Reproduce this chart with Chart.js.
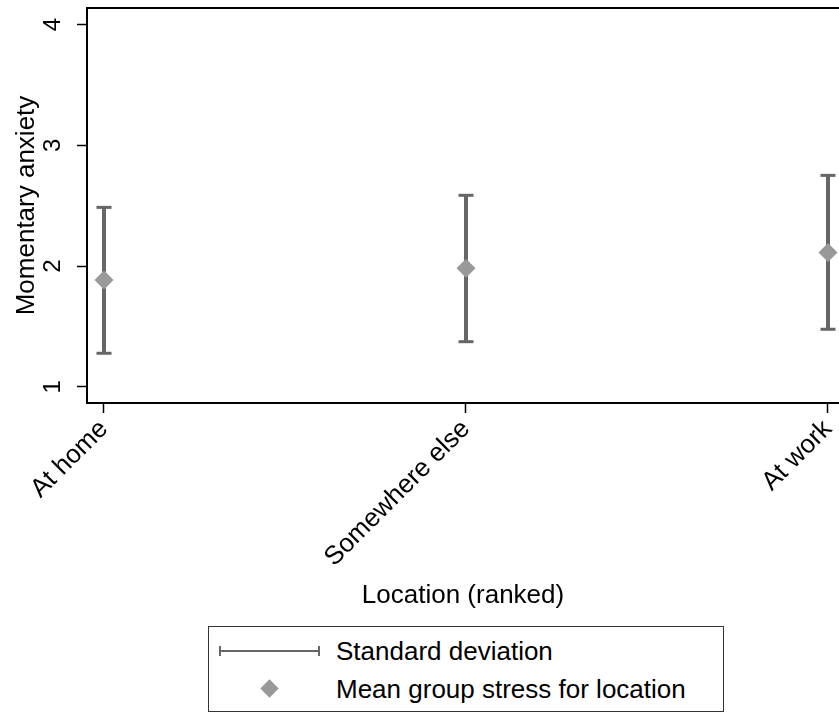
<!DOCTYPE html>
<html>
<head>
<meta charset="utf-8">
<script src="https://cdn.jsdelivr.net/npm/chart.js@4/dist/chart.umd.min.js"></script>
<style>
html, body { margin: 0; padding: 0; background: #fff; }
#wrap { position: relative; width: 839px; height: 713px; overflow: hidden; }
#chart { position: absolute; left: 0; top: 0; }
#legend {
  position: absolute; left: 208px; top: 626px; width: 516px; height: 86px;
  box-sizing: border-box; border: 1.5px solid #333; background: #fff;
  font-family: "Liberation Sans", Arial, Helvetica, sans-serif; font-size: 26px; color: #000;
}
.ltext { position: absolute; left: 127px; line-height: 30px; white-space: nowrap; }
#sdsym { position: absolute; left: 10px; top: 19px; width: 101px; height: 10px; }
#sdsym .bar { position: absolute; left: 0; top: 4px; width: 101px; height: 2px; background: #666; }
#sdsym .capl { position: absolute; left: 0; top: 0; width: 2px; height: 10px; background: #666; }
#sdsym .capr { position: absolute; right: 0; top: 0; width: 2px; height: 10px; background: #666; }
#meansym { position: absolute; left: 54px; top: 55px; width: 13px; height: 13px; background: #999; transform: rotate(45deg); }
</style>
</head>
<body>
<div id="wrap">
  <canvas id="chart" width="839" height="713"></canvas>
  <div id="legend">
    <div id="sdsym"><div class="bar"></div><div class="capl"></div><div class="capr"></div></div>
    <div class="ltext" style="top:9px;">Standard deviation</div>
    <div id="meansym"></div>
    <div class="ltext" style="top:47px;">Mean group stress for location</div>
  </div>
</div>
<script>
// ---- data ----
const categories = ['At home', 'Somewhere else', 'At work'];
const meanValues = [1.884, 1.981, 2.113];
const sdLow = [1.277, 1.373, 1.476];
const sdHigh = [2.486, 2.586, 2.751];
const yTickValues = [1, 2, 3, 4];

Chart.defaults.font.family = '"Liberation Sans", Arial, Helvetica, sans-serif';
Chart.defaults.color = '#000';

const datasets = [];
datasets.push({
  type: 'scatter',
  label: 'Mean group stress for location',
  data: categories.map((c, i) => ({ x: i, y: meanValues[i] })),
  pointStyle: 'rectRot',
  pointRadius: 9.5,
  pointHoverRadius: 9.5,
  backgroundColor: '#999999',
  borderColor: '#999999',
  borderWidth: 0,
  order: 0
});
categories.forEach((c, i) => {
  datasets.push({
    type: 'line',
    label: 'Standard deviation',
    data: [{ x: i, y: sdLow[i] }, { x: i, y: sdHigh[i] }],
    showLine: true,
    fill: false,
    borderColor: '#666666',
    borderWidth: 4,
    pointStyle: 'line',
    pointRadius: 7.5,
    pointHoverRadius: 7.5,
    pointBorderWidth: 3,
    pointBorderColor: '#666666',
    order: 1
  });
});

const topBorder = {
  id: 'topBorder',
  afterDraw(chart) {
    const { ctx, chartArea } = chart;
    ctx.save();
    ctx.strokeStyle = '#000';
    ctx.lineWidth = 2;
    ctx.beginPath();
    ctx.moveTo(chartArea.left - 1, chartArea.top);
    ctx.lineTo(chartArea.right, chartArea.top);
    ctx.stroke();
    ctx.restore();
  }
};

new Chart(document.getElementById('chart'), {
  type: 'scatter',
  data: { datasets },
  options: {
    responsive: false,
    animation: false,
    devicePixelRatio: 1,
    layout: { autoPadding: false, padding: { left: 0, top: 8, right: 0, bottom: 102 } },
    plugins: { legend: { display: false }, tooltip: { enabled: false } },
    scales: {
      x: {
        type: 'linear',
        min: -0.04696,
        max: 2.0304,
        afterBuildTicks(scale) { scale.ticks = categories.map((c, i) => ({ value: i })); },
        afterFit(scale) { scale.height = 208; scale.paddingLeft = 0; scale.paddingRight = 0; },
        ticks: {
          autoSkip: false,
          minRotation: 45,
          maxRotation: 45,
          padding: 1,
          font: { size: 26 },
          color: '#000',
          callback: (v) => categories[v]
        },
        grid: { display: true, drawOnChartArea: false, drawTicks: true, tickLength: 10, tickColor: '#000', tickWidth: 1.5 },
        border: { display: true, color: '#000', width: 2 },
        title: { display: true, text: 'Location (ranked)', font: { size: 26 }, color: '#000', padding: { top: 0, bottom: 0 } }
      },
      y: {
        type: 'linear',
        min: 0.865,
        max: 4.138,
        afterBuildTicks(scale) { scale.ticks = yTickValues.map(v => ({ value: v })); },
        afterFit(scale) { scale.width = 87; scale.paddingTop = 0; scale.paddingBottom = 0; },
        ticks: {
          minRotation: 90,
          maxRotation: 90,
          crossAlign: 'center',
          padding: 17,
          font: { size: 24 },
          color: '#000'
        },
        grid: { display: true, drawOnChartArea: false, drawTicks: true, tickLength: 10, tickColor: '#000', tickWidth: 1.5 },
        border: { display: true, color: '#000', width: 2 },
        title: { display: true, text: 'Momentary anxiety', font: { size: 26 }, color: '#000', padding: { top: 11, bottom: 0 } }
      }
    }
  },
  plugins: [topBorder]
});
</script>
</body>
</html>
